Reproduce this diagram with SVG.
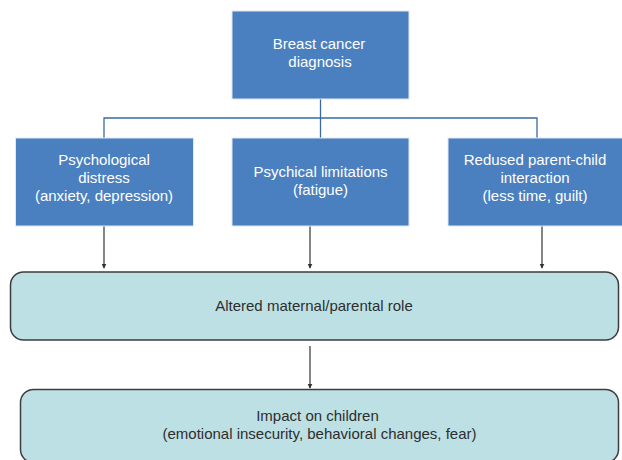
<svg xmlns="http://www.w3.org/2000/svg" width="622" height="460" viewBox="0 0 622 460">
<defs>
<style>
.blue{fill:#4a80c0;stroke:#dfe8f3;stroke-width:1}
.teal{fill:#bde0e4;stroke:#3d3d3d;stroke-width:1.5}
.wt{font-family:"Liberation Sans",Arial,sans-serif;font-size:15px;fill:#ffffff;text-anchor:middle}
.dt{font-family:"Liberation Sans",Arial,sans-serif;font-size:15px;fill:#2e2e2e;text-anchor:middle}
.tree{fill:none;stroke:#3a6aa6;stroke-width:1.3}
.arr{fill:none;stroke:#333333;stroke-width:1.2;marker-end:url(#ah)}
</style>
<marker id="ah" viewBox="0 0 8 8" refX="7" refY="4" markerWidth="5" markerHeight="5" orient="auto" markerUnits="userSpaceOnUse">
<path d="M0,0 L8,4 L0,8 z" fill="#333333"/>
</marker>
</defs>
<rect width="622" height="460" fill="#ffffff"/>
<g id="connectors">
<path class="tree" d="M320.5,99 V118" stroke-width="2"/>
<path class="tree" d="M104,138 V118 H537 V138 M320.5,118 V138"/>
<path class="arr" d="M104,226 V268"/>
<path class="arr" d="M310,226 V268"/>
<path class="arr" d="M542,226 V268"/>
<path class="arr" d="M310,346 V388"/>
</g>
<g id="n-diagnosis">
<rect class="blue" x="232" y="11" width="177" height="88"/>
<text class="wt" x="319" y="49">Breast cancer</text>
<text class="wt" x="320" y="67">diagnosis</text>
</g>
<g id="n-distress">
<rect class="blue" x="15.5" y="138" width="178" height="88"/>
<text class="wt" x="104" y="165">Psychological</text>
<text class="wt" x="104" y="183">distress</text>
<text class="wt" x="104" y="201">(anxiety, depression)</text>
</g>
<g id="n-limitations">
<rect class="blue" x="232" y="138" width="177" height="88"/>
<text class="wt" x="320.5" y="177">Psychical limitations</text>
<text class="wt" x="320.5" y="195">(fatigue)</text>
</g>
<g id="n-interaction">
<rect class="blue" x="448" y="138" width="176" height="88"/>
<text class="wt" x="535" y="165">Redused parent-child</text>
<text class="wt" x="535" y="183">interaction</text>
<text class="wt" x="535" y="201">(less time, guilt)</text>
</g>
<g id="n-role">
<rect class="teal" x="10.5" y="272" width="608" height="68" rx="13" ry="13"/>
<text class="dt" x="314" y="311">Altered maternal/parental role</text>
</g>
<g id="n-impact">
<rect class="teal" x="20.5" y="389.5" width="598" height="73" rx="13" ry="13"/>
<text class="dt" x="317.5" y="421">Impact on children</text>
<text class="dt" x="319.5" y="439">(emotional insecurity, behavioral changes, fear)</text>
</g>
</svg>
